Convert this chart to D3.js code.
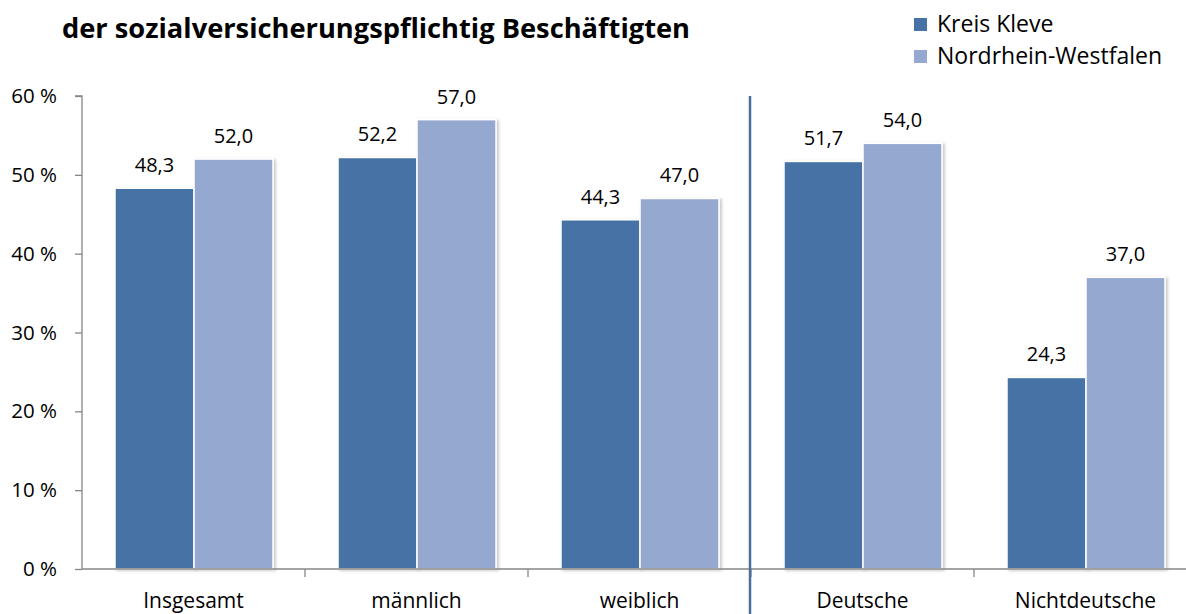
<!DOCTYPE html>
<html>
<head>
    <meta charset="utf-8">
    <title>Sozialversicherungspflichtig Beschäftigte</title>
    <script src="https://d3js.org/d3.v7.min.js"></script>
    <style>
        body { margin: 0; background: #fff; font-family: "Open Sans", Arial, sans-serif; }
        svg { display: block; }
        .tick text { font-family: "Open Sans", Arial, sans-serif; }
    </style>
</head>
<body>
<div id="chart"></div>
<script>
    // Daten
    const categories = ['Insgesamt', 'männlich', 'weiblich', 'Deutsche', 'Nichtdeutsche'];
    const seriesNames = ['Kreis Kleve', 'Nordrhein-Westfalen'];
    const kleve = [48.3, 52.2, 44.3, 51.7, 24.3];
    const nrw = [52.0, 57.0, 47.0, 54.0, 37.0];
    const yTicks = [0, 10, 20, 30, 40, 50, 60];
    const colors = ['#4672a6', '#95a9d0'];

    const width = 1186;
    const height = 614;
    const plotLeft = 82, plotTop = 96, plotBottom = 569;
    const band = 223;

    const svg = d3.select('#chart').append('svg')
        .attr('width', width)
        .attr('height', height);

    const defs = svg.append('defs');
    defs.append('filter')
        .attr('id', 'shadow')
        .attr('x', '-10%').attr('y', '-10%')
        .attr('width', '130%').attr('height', '130%')
        .append('feDropShadow')
        .attr('dx', 2).attr('dy', 1)
        .attr('stdDeviation', 1.5)
        .attr('flood-color', '#000')
        .attr('flood-opacity', 0.22);

    const x0 = d3.scaleBand()
        .domain(categories)
        .range([plotLeft, plotLeft + band * categories.length])
        .padding(0);

    const x1 = d3.scaleBand()
        .domain(seriesNames)
        .range([33, 191])
        .padding(0);

    const y = d3.scaleLinear()
        .domain([0, 60])
        .range([plotBottom, plotTop]);

    // Titel
    svg.append('text')
        .attr('x', 62)
        .attr('y', 38)
        .attr('font-size', 26)
        .attr('font-weight', 'bold')
        .attr('fill', '#000')
        .attr('textLength', 628)
        .attr('lengthAdjust', 'spacingAndGlyphs')
        .text('der sozialversicherungspflichtig Beschäftigten');

    // Legende
    const legend = svg.append('g').attr('transform', 'translate(914,18)');
    seriesNames.forEach((name, i) => {
        const g = legend.append('g').attr('transform', `translate(0,${i * 32})`);
        g.append('rect').attr('width', 13).attr('height', 13).attr('fill', colors[i]);
        g.append('text')
            .attr('x', 23).attr('y', 14)
            .attr('font-size', 23)
            .attr('fill', '#000')
            .text(name);
    });

    // Y-Achse
    const yAxis = svg.append('g')
        .attr('transform', `translate(${plotLeft},0)`)
        .call(d3.axisLeft(y).tickValues(yTicks).tickSize(7).tickPadding(18)
            .tickFormat(d => d + ' %'));
    yAxis.selectAll('path, line').attr('stroke', '#868686').attr('stroke-width', 1.3);
    yAxis.selectAll('text').attr('font-size', 20.5).attr('fill', '#000');
    yAxis.select('.domain').attr('d', `M-7,${plotTop}H0V${plotBottom}`);

    // Balken
    const data = categories.map((c, i) => ({ cat: c, values: [kleve[i], nrw[i]] }));
    const groups = svg.append('g').selectAll('g')
        .data(data)
        .join('g')
        .attr('transform', d => `translate(${x0(d.cat)},0)`);

    groups.selectAll('rect')
        .data(d => d.values.map((v, i) => ({ series: seriesNames[i], v, i })))
        .join('rect')
        .attr('x', d => x1(d.series))
        .attr('y', d => y(d.v))
        .attr('width', x1.bandwidth())
        .attr('height', d => plotBottom - y(d.v))
        .attr('fill', d => colors[d.i])
        .attr('stroke', '#fff')
        .attr('stroke-width', 1.5)
        .attr('filter', 'url(#shadow)');

    groups.selectAll('text.val')
        .data(d => d.values.map((v, i) => ({ series: seriesNames[i], v, i })))
        .join('text')
        .attr('class', 'val')
        .attr('x', d => x1(d.series) + x1.bandwidth() / 2)
        .attr('y', d => y(d.v) - 16)
        .attr('text-anchor', 'middle')
        .attr('font-size', 20)
        .attr('fill', '#000')
        .text(d => d.v.toFixed(1).replace('.', ','));

    // X-Achse
    const xAxis = svg.append('g')
        .attr('transform', `translate(0,${plotBottom})`)
        .call(d3.axisBottom(x0).tickSize(0).tickPadding(24));
    xAxis.select('.domain').attr('stroke', '#868686').attr('stroke-width', 1.3)
        .attr('d', `M${plotLeft},0H${width + 20}`);
    xAxis.selectAll('text').attr('font-size', 21).attr('fill', '#000');

    // Kategorie-Trennstriche
    svg.append('g').selectAll('line')
        .data(categories.slice(1))
        .join('line')
        .attr('x1', d => x0(d)).attr('x2', d => x0(d))
        .attr('y1', plotBottom).attr('y2', plotBottom + 8)
        .attr('stroke', '#868686')
        .attr('stroke-width', 1.3);

    // Trennlinie zwischen Geschlecht und Nationalität
    svg.append('line')
        .attr('x1', x0('Deutsche') - 1).attr('x2', x0('Deutsche') - 1)
        .attr('y1', plotTop).attr('y2', height)
        .attr('stroke', '#4a6f9e')
        .attr('stroke-width', 2.5);
</script>
</body>
</html>
